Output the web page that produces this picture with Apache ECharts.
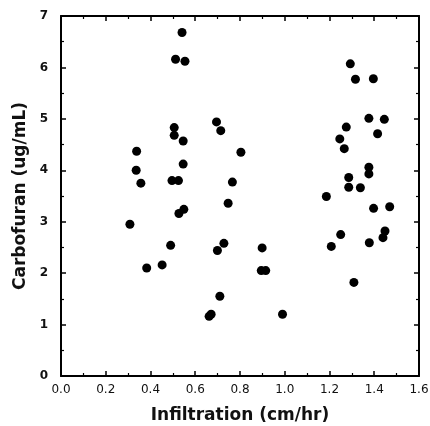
<!DOCTYPE html>
<html>
<head>
<meta charset="utf-8">
<script src="https://cdn.jsdelivr.net/npm/echarts@6/dist/echarts.min.js"></script>
<style>
  html, body { margin: 0; padding: 0; background: #fff; }
  #chart { width: 430px; height: 426px; }
</style>
</head>
<body>
<div id="chart"></div>
<script>
// infiltration (cm/hr) and carbofuran (ug/mL)
var infiltration = [
  0.541, 0.512, 0.554, 0.695, 0.714, 0.506, 0.506, 0.546, 0.338, 0.336,
  0.357, 0.496, 0.525, 0.546, 0.766, 0.804, 1.293, 1.316, 1.396, 1.376,
  1.445, 1.275, 1.415, 1.246, 1.266, 1.376, 1.376, 1.286, 1.286, 1.338,
  1.186, 0.308, 0.527, 0.549, 0.747, 0.490, 0.383, 0.452, 0.699, 0.728,
  0.710, 0.662, 0.671, 0.899, 0.895, 0.915, 0.990, 1.397, 1.469, 1.250,
  1.208, 1.378, 1.448, 1.439, 1.309
];
var carbofuran = [
  6.68, 6.16, 6.12, 4.94, 4.77, 4.83, 4.68, 4.57, 4.37, 4.00,
  3.75, 3.80, 3.80, 4.12, 3.77, 4.35, 6.07, 5.77, 5.78, 5.01,
  4.99, 4.84, 4.71, 4.61, 4.42, 4.06, 3.93, 3.86, 3.67, 3.66,
  3.49, 2.95, 3.16, 3.24, 3.36, 2.54, 2.10, 2.16, 2.44, 2.58,
  1.55, 1.16, 1.20, 2.49, 2.05, 2.05, 1.20, 3.26, 3.29, 2.75,
  2.52, 2.59, 2.82, 2.69, 1.82
];
var xTicks = ['0.0', '0.2', '0.4', '0.6', '0.8', '1.0', '1.2', '1.4', '1.6'];

var points = [];
for (var i = 0; i < infiltration.length; i++) {
  points.push([infiltration[i], carbofuran[i]]);
}

function frameAxis(extra) {
  var ax = {
    type: 'value',
    axisLine: { show: true, onZero: false, lineStyle: { color: '#000', width: 2 } },
    axisTick: { show: true, inside: true, length: 5, lineStyle: { color: '#000', width: 1.5 } },
    minorTick: { show: true, splitNumber: 2, length: 3, lineStyle: { color: '#000', width: 1.2 } },
    splitLine: { show: false },
    axisLabel: { show: false }
  };
  for (var k in extra) ax[k] = extra[k];
  return ax;
}

var chart = echarts.init(document.getElementById('chart'));

var option = {
  animation: false,
  grid: { left: 61, right: 11, top: 16, bottom: 50, outerBoundsMode: 'none' },
  xAxis: [
    frameAxis({
      position: 'bottom', min: 0, max: 1.6, interval: 0.2,
      name: 'Infiltration (cm/hr)', nameLocation: 'middle', nameGap: 31,
      nameTextStyle: { fontFamily: 'DejaVu Sans', fontSize: 17, fontWeight: 'bold', color: '#111' },
      axisLabel: {
        show: true, margin: 8, color: '#111', fontFamily: 'DejaVu Sans', fontSize: 12,
        formatter: function (v) { return xTicks[Math.round(v / 0.2)]; }
      }
    }),
    frameAxis({ position: 'top', min: 0, max: 1.6, interval: 0.2 })
  ],
  yAxis: [
    frameAxis({
      position: 'left', min: 0, max: 7, interval: 1,
      name: 'Carbofuran (ug/mL)', nameLocation: 'middle', nameGap: 20,
      nameTextStyle: { fontFamily: 'DejaVu Sans', fontSize: 17, fontWeight: 'bold', color: '#111' },
      axisLabel: { show: true, margin: 13, color: '#111', fontFamily: 'DejaVu Sans', fontSize: 12, fontWeight: 'bold' }
    }),
    frameAxis({ position: 'right', min: 0, max: 7, interval: 1 })
  ],
  series: [{
    type: 'scatter',
    xAxisIndex: 0,
    yAxisIndex: 0,
    symbol: 'circle',
    symbolSize: 9,
    itemStyle: { color: '#000', opacity: 1 },
    data: points
  }]
};

chart.setOption(option);
</script>
</body>
</html>
